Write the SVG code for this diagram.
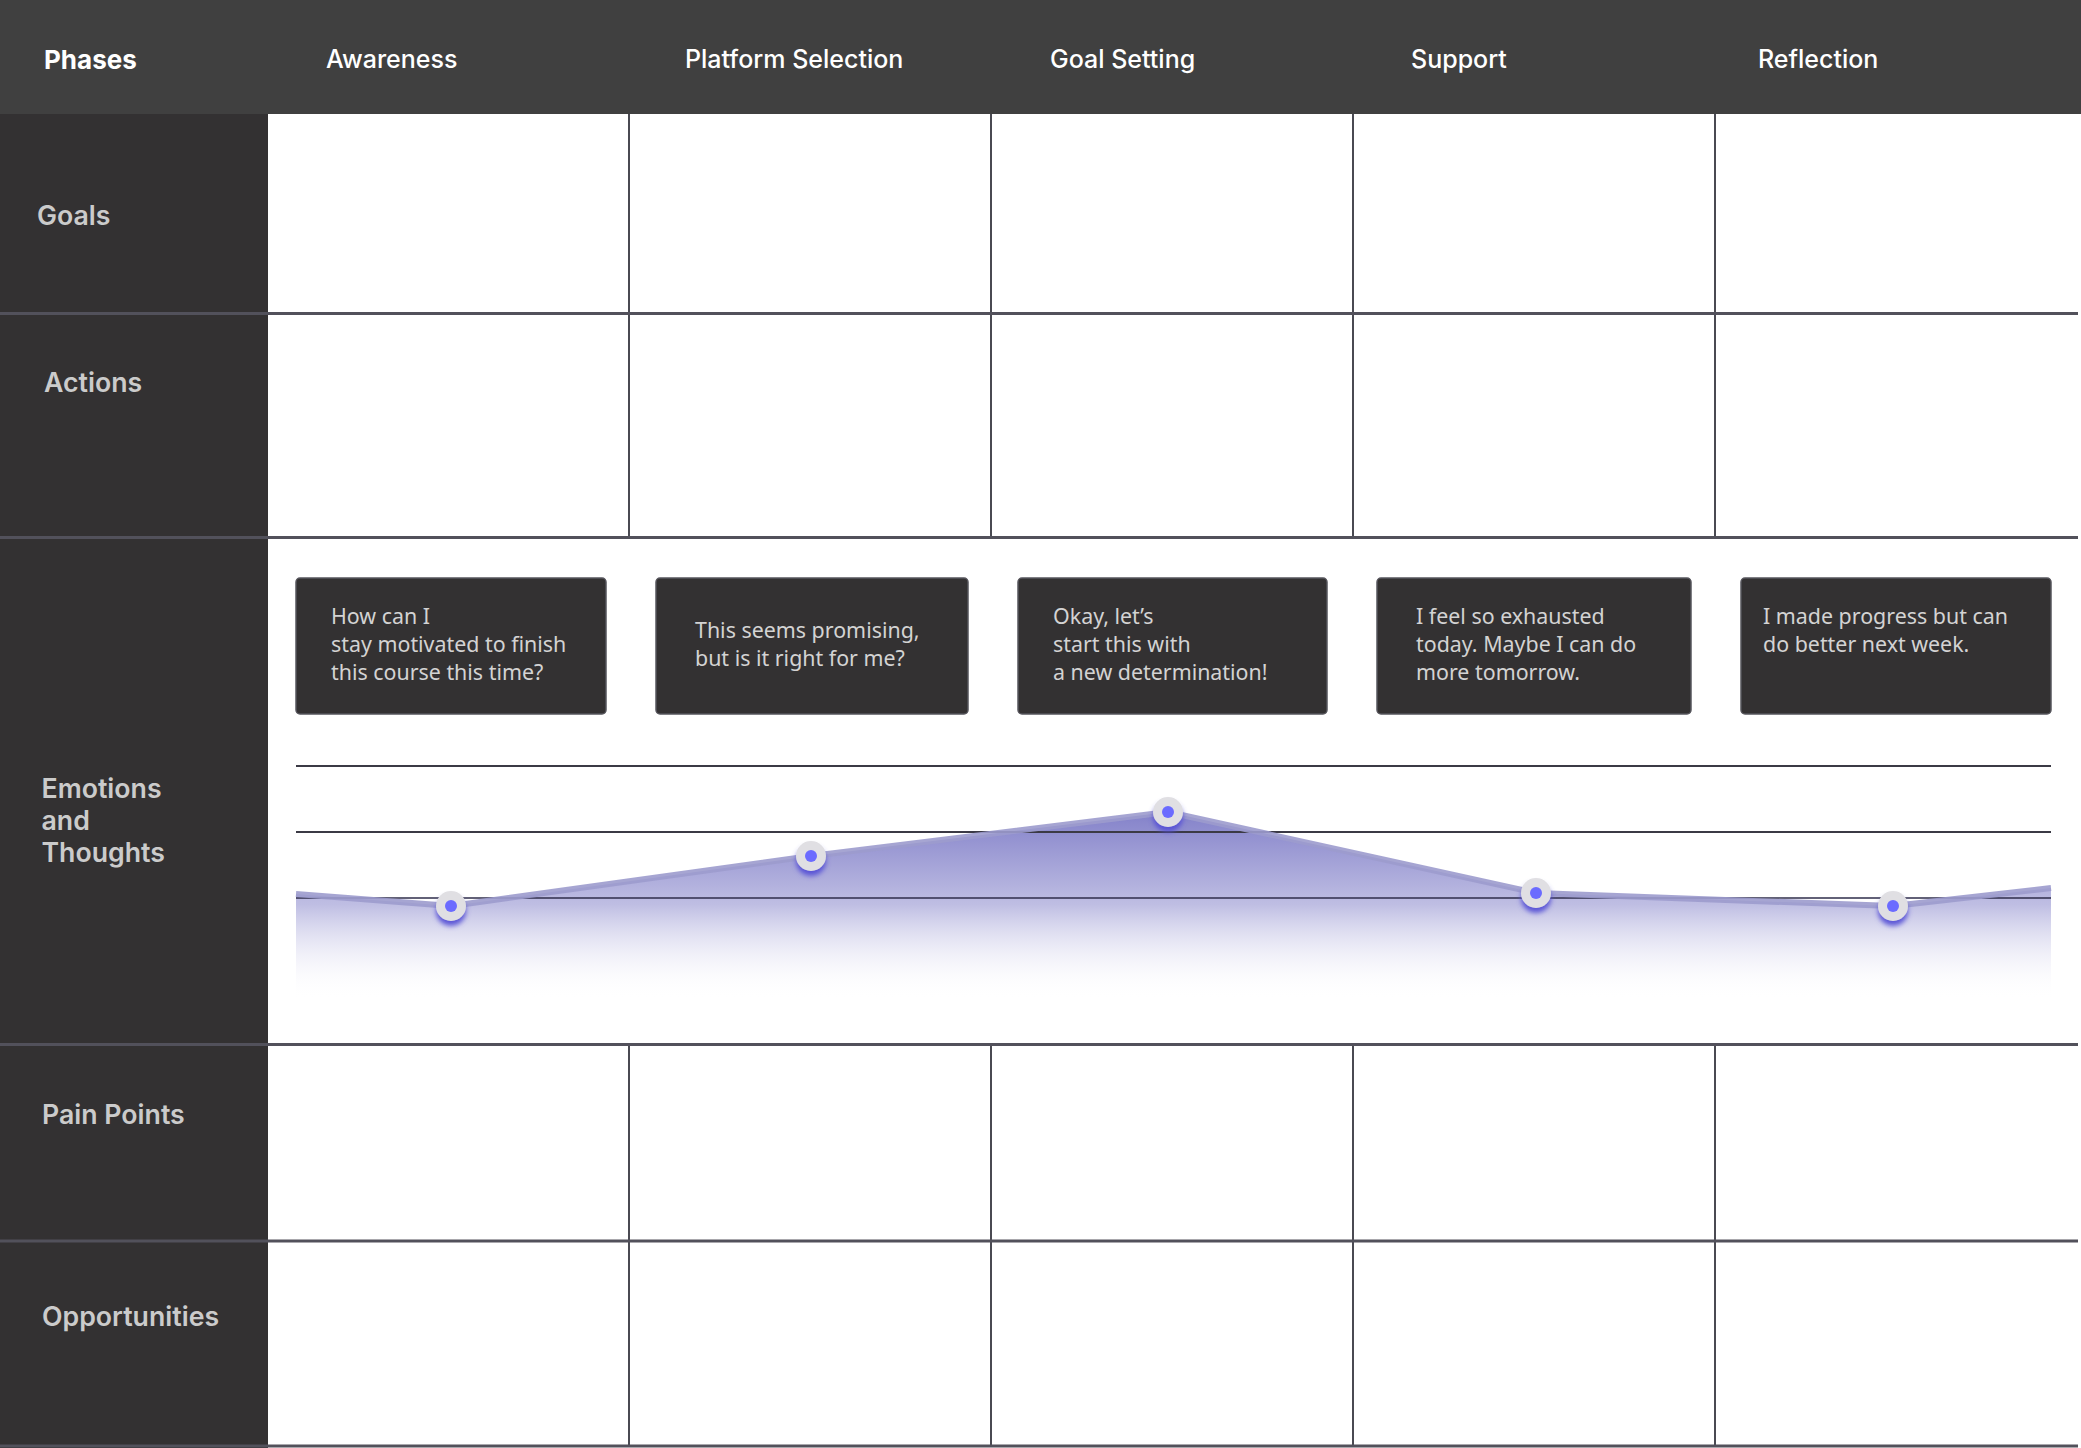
<svg xmlns="http://www.w3.org/2000/svg" width="2081" height="1448" viewBox="0 0 2081 1448">
<defs>
<style>
.hdr{font-family:Inter,"Liberation Sans",sans-serif;font-size:25px;font-weight:500;fill:#ffffff}
.hdrb{font-weight:700;font-size:26px}
.lbl{font-family:Inter,"Liberation Sans",sans-serif;font-size:26.7px;font-weight:600;fill:#cbcbcb}
.bubble rect{fill:#333132;stroke:#56555c;stroke-width:1.5}
.bubble text{font-family:"Noto Sans","Liberation Sans",sans-serif;font-size:21.4px;fill:#d3d3d3}
.vline{stroke:#4a4a52;stroke-width:2}
.hline{stroke:#52515b;stroke-width:3}
.grid{stroke:#3b3a45;stroke-width:2}
.dot-outer{fill:#e0dfe3;filter:url(#glow)}
.dot-inner{fill:#6b6bff}
</style>
<linearGradient id="areaGrad" gradientUnits="userSpaceOnUse" x1="0" y1="810" x2="0" y2="1000">
<stop offset="0" stop-color="#8280c9"/>
<stop offset="0.5" stop-color="#bfbee3"/>
<stop offset="1" stop-color="#ffffff" stop-opacity="0"/>
</linearGradient>
<filter id="glow" x="-60%" y="-60%" width="220%" height="240%">
<feDropShadow dx="0" dy="5" stdDeviation="2.5" flood-color="#5550d6" flood-opacity="0.95"/>
</filter>
</defs>

<rect x="0" y="0" width="2081" height="1448" fill="#ffffff"/>

<g id="header">
<rect x="0" y="0" width="2081" height="114" fill="#404040"/>
<text class="hdr hdrb" x="44" y="69">Phases</text>
<text class="hdr" x="326" y="68">Awareness</text>
<text class="hdr" x="685" y="68">Platform Selection</text>
<text class="hdr" x="1050" y="68">Goal Setting</text>
<text class="hdr" x="1411" y="68">Support</text>
<text class="hdr" x="1758" y="68">Reflection</text>
</g>

<g id="row-labels">
<rect x="0" y="114" width="268" height="1334" fill="#333132"/>
<text id="label-goals" class="lbl" x="37" y="225">Goals</text>
<text id="label-actions" class="lbl" x="44" y="392">Actions</text>
<text id="label-emotions" class="lbl" x="41.5" y="798"><tspan x="41.5" y="798">Emotions</tspan><tspan x="41.5" y="830">and</tspan><tspan x="41.5" y="862">Thoughts</tspan></text>
<text id="label-pain" class="lbl" x="42" y="1124">Pain Points</text>
<text id="label-opps" class="lbl" x="42" y="1326">Opportunities</text>
</g>

<g id="grid-lines">
<line class="vline" x1="629" y1="114" x2="629" y2="537"/>
<line class="vline" x1="991" y1="114" x2="991" y2="537"/>
<line class="vline" x1="1353" y1="114" x2="1353" y2="537"/>
<line class="vline" x1="1715" y1="114" x2="1715" y2="537"/>
<line class="vline" x1="629" y1="1044" x2="629" y2="1446"/>
<line class="vline" x1="991" y1="1044" x2="991" y2="1446"/>
<line class="vline" x1="1353" y1="1044" x2="1353" y2="1446"/>
<line class="vline" x1="1715" y1="1044" x2="1715" y2="1446"/>
<line class="hline" x1="0" y1="313.5" x2="2078" y2="313.5"/>
<line class="hline" x1="0" y1="537.5" x2="2078" y2="537.5"/>
<line class="hline" x1="0" y1="1044.5" x2="2078" y2="1044.5"/>
<line class="hline" x1="0" y1="1241" x2="2078" y2="1241"/>
<line class="hline" x1="0" y1="1446" x2="2078" y2="1446"/>
</g>

<g id="thought-1" class="bubble">
<rect x="296" y="578" width="310" height="136" rx="4"/>
<text x="331" y="624">How can I</text>
<text x="331" y="652">stay motivated to finish</text>
<text x="331" y="680">this course this time?</text>
</g>
<g id="thought-2" class="bubble">
<rect x="656" y="578" width="312" height="136" rx="4"/>
<text x="695" y="638">This seems promising,</text>
<text x="695" y="666">but is it right for me?</text>
</g>
<g id="thought-3" class="bubble">
<rect x="1018" y="578" width="309" height="136" rx="4"/>
<text x="1053" y="624">Okay, let’s</text>
<text x="1053" y="652">start this with</text>
<text x="1053" y="680">a new determination!</text>
</g>
<g id="thought-4" class="bubble">
<rect x="1377" y="578" width="314" height="136" rx="4"/>
<text x="1416" y="624">I feel so exhausted</text>
<text x="1416" y="652">today. Maybe I can do</text>
<text x="1416" y="680">more tomorrow.</text>
</g>
<g id="thought-5" class="bubble">
<rect x="1741" y="578" width="310" height="136" rx="4"/>
<text x="1763" y="624">I made progress but can</text>
<text x="1763" y="652">do better next week.</text>
</g>

<g id="emotion-chart">
<path d="M296,894 L451,906 L811,856 L1168,812 L1536,893 L1893,906 L2051,888 L2051,1000 L296,1000 Z" fill="url(#areaGrad)"/>
<line class="grid" x1="296" y1="766" x2="2051" y2="766"/>
<line class="grid" x1="296" y1="832" x2="2051" y2="832"/>
<line x1="296" y1="898" x2="2051" y2="898" stroke="#2e2c4a" stroke-width="1.5"/>
</g>

<g id="connectors">
<polyline points="296,894 451,906 811,856 1168,812 1536,893 1893,906 2051,888" fill="none" stroke="#9c9bcd" stroke-width="6" stroke-opacity="0.9" stroke-linejoin="round"/>
</g>

<g id="points">
<g id="point-1"><circle class="dot-outer" cx="451" cy="906" r="15"/><circle class="dot-inner" cx="451" cy="906" r="6"/></g>
<g id="point-2"><circle class="dot-outer" cx="811" cy="856" r="15"/><circle class="dot-inner" cx="811" cy="856" r="6"/></g>
<g id="point-3"><circle class="dot-outer" cx="1168" cy="812" r="15"/><circle class="dot-inner" cx="1168" cy="812" r="6"/></g>
<g id="point-4"><circle class="dot-outer" cx="1536" cy="893" r="15"/><circle class="dot-inner" cx="1536" cy="893" r="6"/></g>
<g id="point-5"><circle class="dot-outer" cx="1893" cy="906" r="15"/><circle class="dot-inner" cx="1893" cy="906" r="6"/></g>
</g>
</svg>
